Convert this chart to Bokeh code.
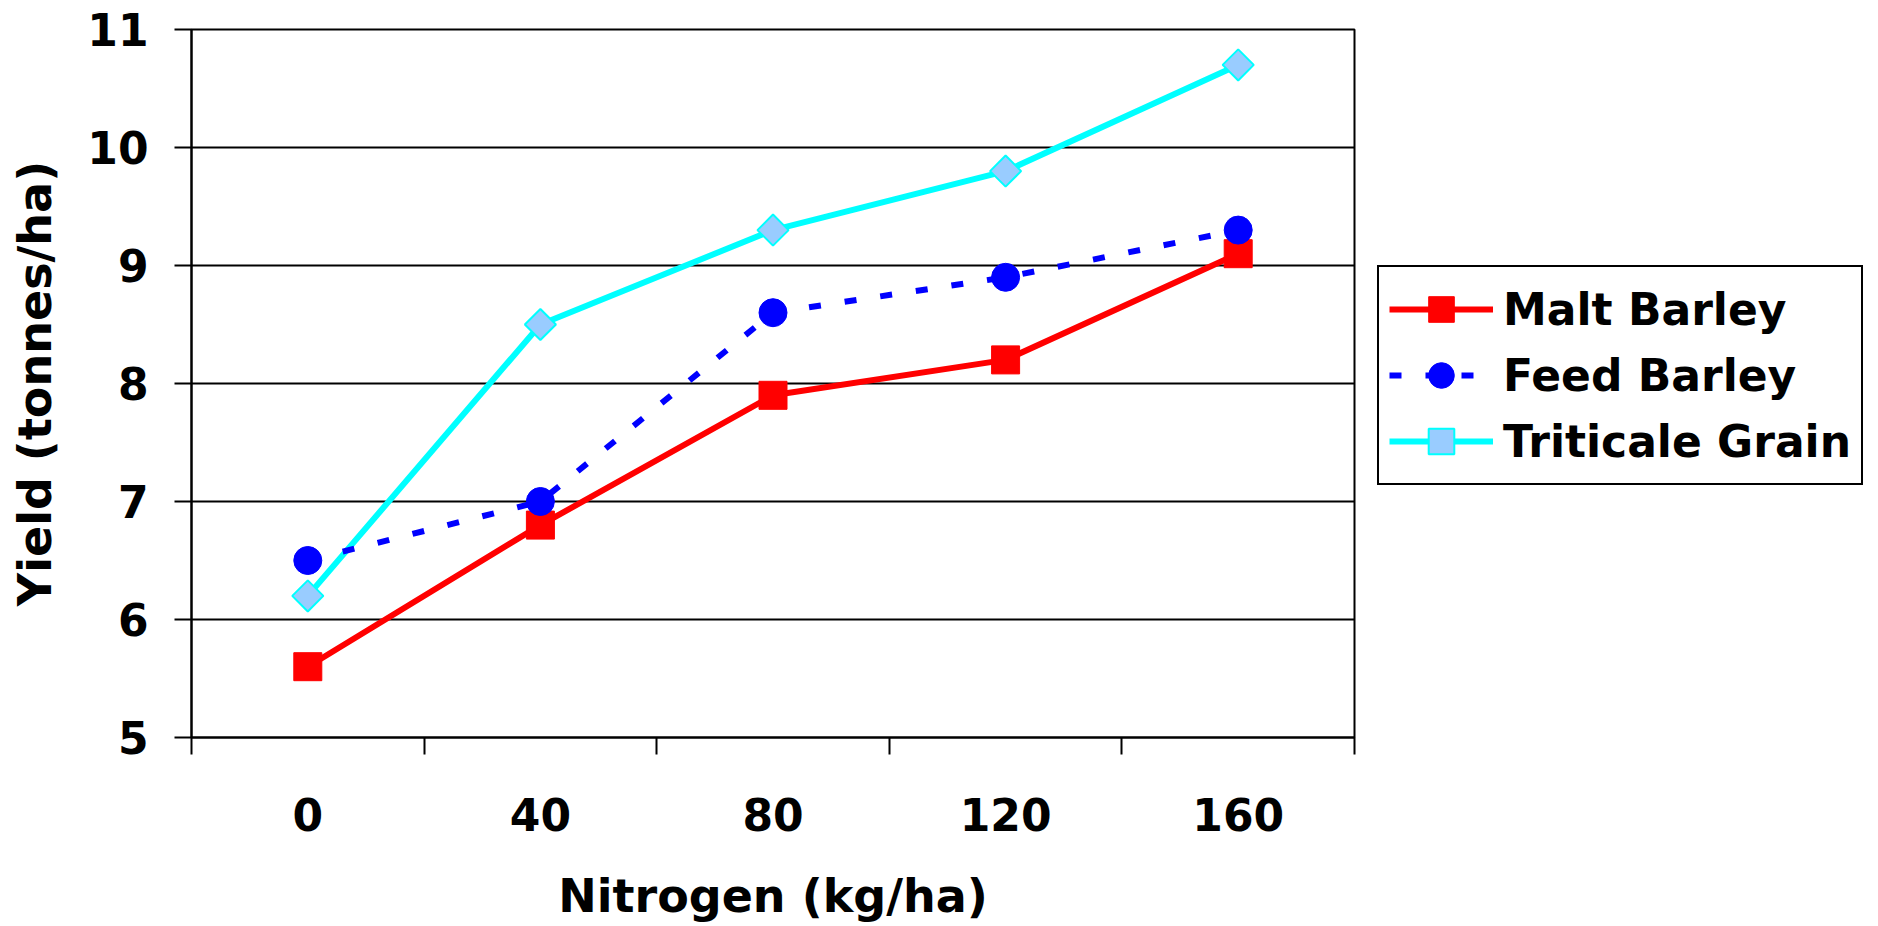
import math
from bokeh.plotting import figure
from bokeh.layouts import row
from bokeh.models import ColumnDataSource, FixedTicker, Legend, LegendItem
from bokeh.embed import file_html
from bokeh.resources import INLINE

nitrogen = ["0", "40", "80", "120", "160"]
malt_barley = [5.6, 6.8, 7.9, 8.2, 9.1]
feed_barley = [6.5, 7.0, 8.6, 8.9, 9.3]
triticale_grain = [6.2, 8.5, 9.3, 9.8, 10.7]
y_ticks = [5, 6, 7, 8, 9, 10, 11]
series_names = ["Malt Barley", "Feed Barley", "Triticale Grain"]

FONT = "DejaVu Sans"
H = 925
xpos = list(range(len(nitrogen)))
src = ColumnDataSource(dict(x=xpos, malt=malt_barley, feed=feed_barley, trit=triticale_grain))

p = figure(width=1357, height=H, output_backend="svg", toolbar_location=None,
           x_range=(-0.5, len(nitrogen) - 0.5), y_range=(y_ticks[0], y_ticks[-1]),
           min_border_left=191, min_border_top=29, min_border_right=3, min_border_bottom=180)
p.outline_line_color = "black"
p.outline_line_width = 2
p.outline_line_alpha = 1.0
p.background_fill_color = "white"
p.border_fill_color = "white"

# grid
p.xgrid.visible = False
p.ygrid.grid_line_color = "black"
p.ygrid.grid_line_width = 2
p.ygrid.ticker = FixedTicker(ticks=y_ticks)

# x axis
xa = p.xaxis[0]
xa.ticker = FixedTicker(ticks=xpos, minor_ticks=[i - 0.5 for i in range(len(nitrogen) + 1)])
xa.major_label_overrides = {i: lab for i, lab in enumerate(nitrogen)}
xa.major_tick_out = 17
xa.major_tick_in = 0
xa.major_tick_line_color = None
xa.minor_tick_out = 17
xa.minor_tick_in = 0
xa.minor_tick_line_color = "black"
xa.minor_tick_line_width = 2
xa.axis_line_color = "black"
xa.axis_line_width = 2
xa.major_label_text_font = FONT
xa.major_label_text_font_style = "bold"
xa.major_label_text_font_size = "44px"
xa.major_label_text_color = "black"
xa.major_label_standoff = 43
xa.axis_label = "Nitrogen (kg/ha)"
xa.axis_label_text_font = FONT
xa.axis_label_text_font_style = "bold"
xa.axis_label_text_font_size = "46px"
xa.axis_label_text_color = "black"
xa.axis_label_standoff = 35

# y axis
ya = p.yaxis[0]
ya.ticker = FixedTicker(ticks=y_ticks)
ya.major_tick_out = 17
ya.major_tick_in = 0
ya.major_tick_line_color = "black"
ya.major_tick_line_width = 2
ya.minor_tick_line_color = None
ya.axis_line_color = "black"
ya.axis_line_width = 2
ya.major_label_text_font = FONT
ya.major_label_text_font_style = "bold"
ya.major_label_text_font_size = "44px"
ya.major_label_text_color = "black"
ya.major_label_standoff = 26
ya.axis_label = "Yield (tonnes/ha)"
ya.axis_label_text_font = FONT
ya.axis_label_text_font_style = "bold"
ya.axis_label_text_font_size = "46px"
ya.axis_label_text_color = "black"
ya.axis_label_standoff = 22

STYLES = {
    "malt": dict(line=dict(line_color="#FF0000", line_width=6),
                 mark=dict(marker="square", size=28, fill_color="#FF0000", line_color="#FF0000")),
    "feed": dict(line=dict(line_color="#0000FF", line_width=6, line_dash="12 24"),
                 mark=dict(marker="circle", size=28, fill_color="#0000FF", line_color="#0000FF")),
    "trit": dict(line=dict(line_color="#00FFFF", line_width=6),
                 mark=dict(marker="square", angle=math.pi / 4, size=22, fill_color="#99CCFF",
                           line_color="#00FFFF", line_width=2)),
}
order = ["malt", "trit", "feed"]


def draw(fig):
    out = {}
    for key in order:
        st = STYLES[key]
        ln = fig.line("x", key, source=src, **st["line"])
        sc = fig.scatter("x", key, source=src, **st["mark"])
        out[key] = [ln, sc]
    return out


draw(p)

# legend panel: a second figure whose view holds no data, showing only the legend
pl = figure(width=513, height=H, output_backend="svg", toolbar_location=None,
            x_range=(0, 1), y_range=(0, 1), min_border=0)
pl.axis.visible = False
pl.grid.visible = False
pl.outline_line_color = None
pl.background_fill_color = "white"
pl.border_fill_color = "white"
rends = draw(pl)

legend = Legend(items=[
    LegendItem(label=series_names[0], renderers=rends["malt"]),
    LegendItem(label=series_names[1], renderers=rends["feed"]),
    LegendItem(label=series_names[2], renderers=rends["trit"]),
])
legend.location = (20, 252)
legend.margin = 0
legend.padding = 10
legend.spacing = 2
legend.glyph_width = 104
legend.glyph_height = 64
legend.label_height = 64
legend.label_standoff = 10
legend.label_text_font = FONT
legend.label_text_font_style = "bold"
legend.label_text_font_size = "44px"
legend.label_text_color = "black"
legend.border_line_color = "black"
legend.border_line_width = 2
legend.border_line_alpha = 1.0
legend.background_fill_color = "white"
legend.background_fill_alpha = 1.0
pl.add_layout(legend, "center")

layout = row(p, pl, spacing=0)
open("out.html", "w").write(file_html(layout, INLINE))
